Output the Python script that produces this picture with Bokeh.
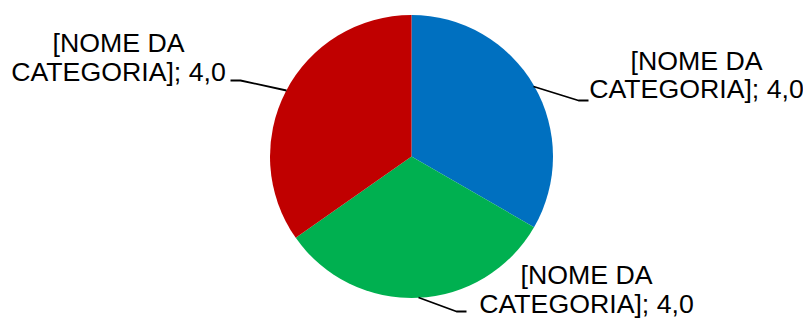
import math
from bokeh.plotting import figure
from bokeh.models import Range1d
from bokeh.core.properties import value
from bokeh.embed import file_html
from bokeh.resources import INLINE

categories = ["[NOME DA CATEGORIA]", "[NOME DA CATEGORIA]", "[NOME DA CATEGORIA]"]
values = [4.0, 3.83, 4.17]
value_labels = ["4,0", "4,0", "4,0"]
colors = ["#0070C0", "#00B050", "#C00000"]

W, H = 803, 321
TEXT_SHIFT = 10  # rendered text sits lower than the requested baseline


def sx(x):
    return x


def sy(y):
    return H - y


p = figure(width=W, height=H, output_backend="svg", toolbar_location=None,
           x_range=Range1d(0, W), y_range=Range1d(0, H), min_border=0)
p.axis.visible = False
p.grid.visible = False
p.outline_line_color = None
p.background_fill_color = "white"
p.border_fill_color = "white"

cx, cy, r = 411, 156, 141.5
total = sum(values)
starts, ends = [], []
acc = 0.0
for v in values:
    a0 = math.pi / 2 - 2 * math.pi * acc / total
    acc += v
    a1 = math.pi / 2 - 2 * math.pi * acc / total
    starts.append(a0)
    ends.append(a1)

p.wedge(x=[sx(cx)] * 3, y=[sy(cy)] * 3, radius=r,
        start_angle=starts, end_angle=ends, direction="clock",
        fill_color=colors, line_color=None)

# leader lines (screen coords)
leaders = [
    [(533, 86), (578, 100), (588, 100)],
    [(418, 297), (456, 311), (466, 311)],
    [(286, 90), (240, 80), (230, 80)],
]
for pts in leaders:
    p.line([sx(x) for x, _ in pts], [sy(y) for _, y in pts],
           line_color="black", line_width=1.8)

# labels (screen baselines)
label_pos = [(696, 70, 98), (586, 284, 313), (118, 52, 81)]
for cat, lab, (lx, b1, b2) in zip(categories, value_labels, label_pos):
    words = cat.split(" ")
    line1 = " ".join(words[:2])
    line2 = " ".join(words[2:]) + "; " + lab
    for txt, by in ((line1, b1), (line2, b2)):
        p.text(x=[sx(lx)], y=[sy(by - TEXT_SHIFT)], text=[txt], text_align="center",
               text_baseline="alphabetic", text_font=value("Liberation Sans"),
               text_font_size="26.7px", text_color="black")

open("out.html", "w").write(file_html(p, INLINE))
